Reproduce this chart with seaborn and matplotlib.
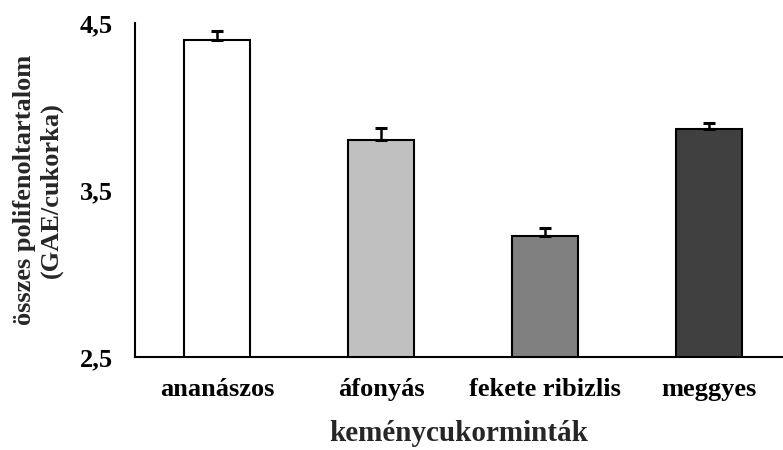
import matplotlib.pyplot as plt
import seaborn as sns
import pandas as pd

# minták és értékek
samples = ["ananászos", "áfonyás", "fekete ribizlis", "meggyes"]
values = [4.40, 3.80, 3.225, 3.865]
errors = [0.055, 0.07, 0.05, 0.035]
colors = ["#FFFFFF", "#C0C0C0", "#808080", "#404040"]
yticks = [2.5, 3.5, 4.5]
ytick_labels = ["2,5", "3,5", "4,5"]

df = pd.DataFrame({"minta": samples, "ertek": values})

sns.set_theme(style="white")
plt.rcParams["font.family"] = ["Liberation Serif", "DejaVu Serif"]
plt.rcParams["font.weight"] = "bold"

f = plt.figure(figsize=(7.83, 4.5), dpi=100)
ax = f.add_axes([135 / 783, 1 - 357 / 450, 1 - 135 / 783, (357 - 23) / 450])

sns.barplot(data=df, x="minta", y="ertek", hue="minta", palette=colors,
            width=0.40, edgecolor="black", linewidth=1.5, legend=False, ax=ax)
ax.errorbar(range(len(samples)), values, yerr=[[0] * len(errors), errors],
            fmt="none", ecolor="black", elinewidth=1.8, capsize=4, capthick=2.2)

ax.set_ylim(2.5, 4.5)
ax.set_xlim(-0.5, 3.45)
ax.set_yticks(yticks)
ax.set_yticklabels(ytick_labels)
ax.tick_params(axis="both", length=0, labelsize=19, colors="black")
ax.tick_params(axis="x", pad=15)
ax.tick_params(axis="y", pad=16)
for lab in ax.get_xticklabels() + ax.get_yticklabels():
    lab.set_fontweight("bold")

ax.set_xlabel("keménycukorminták", fontsize=21, fontweight="bold", labelpad=14)
ax.set_ylabel("összes polifenoltartalom\n(GAE/cukorka)", fontsize=19,
              fontweight="bold", labelpad=12, linespacing=1.2)

sns.despine(ax=ax)
for s in ["left", "bottom"]:
    ax.spines[s].set_color("black")
    ax.spines[s].set_linewidth(1.5)

f.savefig("out.png", dpi=100)
